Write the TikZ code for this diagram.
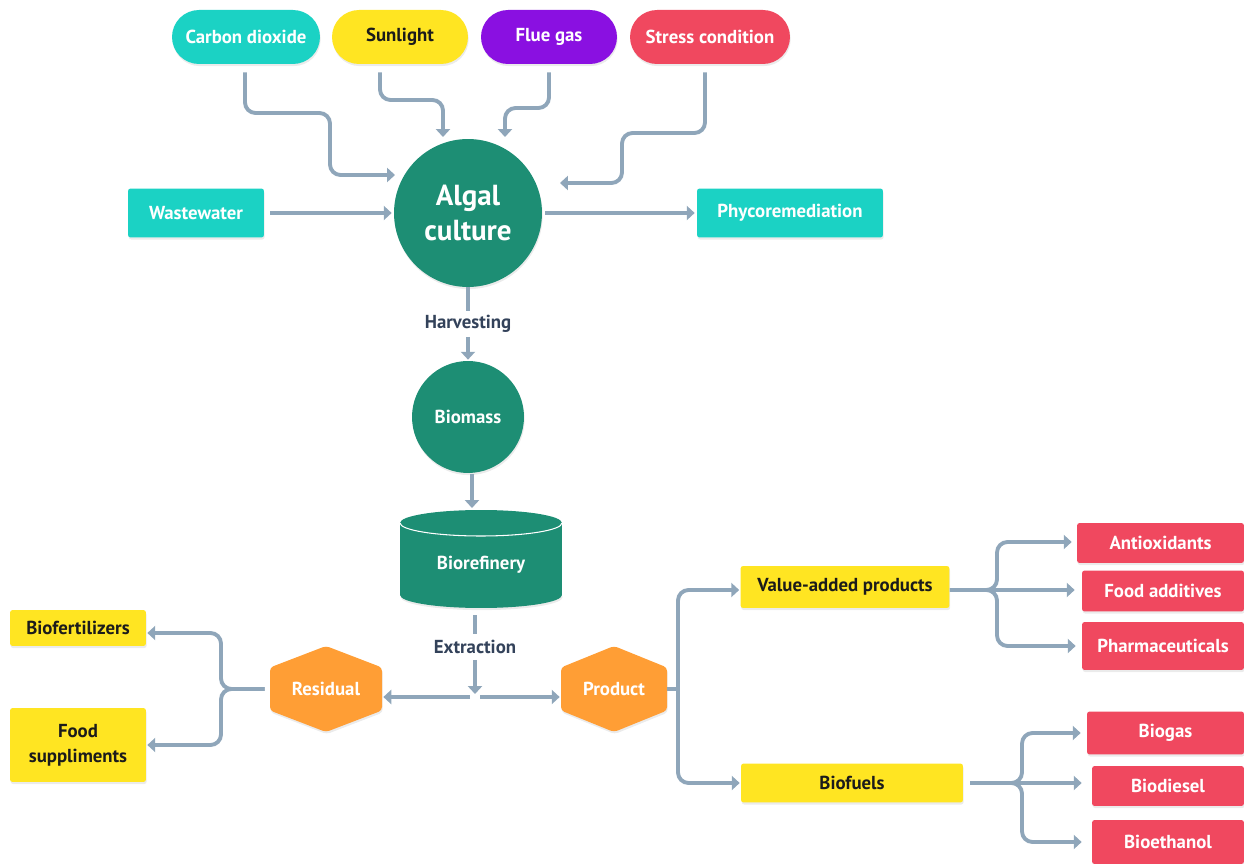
\documentclass[tikz,border=0pt]{standalone}
\usepackage{fontspec}
\setmainfont{PT Sans}
\usepackage{tikz}
\usetikzlibrary{arrows.meta,positioning,calc,shadows}
\pgfdeclarelayer{bg}
\pgfsetlayers{bg,main}

\definecolor{cTeal}{HTML}{1BD2C4}
\definecolor{cYellow}{HTML}{FFE522}
\definecolor{cPurple}{HTML}{8A10E1}
\definecolor{cRed}{HTML}{F0485F}
\definecolor{cGreen}{HTML}{1D8E74}
\definecolor{cOrange}{HTML}{FF9E35}
\definecolor{cLine}{HTML}{8FA6BA}
\definecolor{cLabel}{HTML}{33425A}
\definecolor{cInk}{HTML}{1B1B1B}

\begin{document}
\begin{tikzpicture}[x=0.02cm,y=-0.02cm,
		every node/.style = {font=\bfseries\fontsize{10.7}{14}\selectfont, align=center, inner sep=0pt},
		softshadow/.style = {drop shadow={shadow xshift=0.4pt,shadow yshift=-1.2pt,opacity=0.16}},
		pill/.style = {rounded corners=0.54cm, minimum height=1.08cm, text=white, softshadow},
		box/.style = {rounded corners=1.5pt, text=white, softshadow},
		disc/.style = {circle, fill=cGreen, text=white, softshadow},
		hexlabel/.style = {minimum height=0.86cm, text=white},
		stage/.style = {text=cLabel, minimum height=0.5cm},
		wire/.style = {draw=cLine, line width=2.2pt, rounded corners=6pt},
		conn/.style = {wire, -{Triangle[length=4.5pt,width=8pt]}}]

	\useasboundingbox (0,0) rectangle (1244,864);

	% inputs
	\node[pill,fill=cTeal,minimum width=2.96cm] (co2) at (246,37) {Carbon dioxide};
	\node[pill,fill=cYellow,text=cInk,minimum width=2.72cm] (sun) at (400,37) {Sunlight};
	\node[pill,fill=cPurple,minimum width=2.72cm] (flue) at (549,37) {Flue gas};
	\node[pill,fill=cRed,minimum width=3.2cm] (stress) at (710,37) {Stress condition};

	\node[disc,minimum size=2.96cm,font=\bfseries\fontsize{16.5}{20}\selectfont] (algal) at (468,213) {Algal\\culture};
	\node[box,fill=cTeal,minimum width=2.72cm,minimum height=0.98cm] (waste) at (196,213) {Wastewater};
	\node[box,fill=cTeal,minimum width=3.72cm,minimum height=0.98cm] (phyco) at (790,213) {Phycoremediation};

	\node[stage] (harv) at (468,324) {Harvesting};
	\node[disc,minimum size=2.24cm] (biomass) at (468,417) {Biomass};
	\node[text=white,minimum width=3.24cm,minimum height=1.7cm] (bioref) at (481,565) {Biorefinery};
	\node[stage] (extr) at (475,647) {Extraction};
	\coordinate (split) at (475,697);

	\node[hexlabel,minimum width=2.24cm] (res) at (326,689) {Residual};
	\node[hexlabel,minimum width=2.12cm] (prod) at (614,689) {Product};

	\node[box,fill=cYellow,text=cInk,minimum width=2.72cm,minimum height=0.72cm] (biofert) at (78,628) {Biofertilizers};
	\node[box,fill=cYellow,text=cInk,minimum width=2.72cm,minimum height=1.48cm] (food) at (78,745) {Food\\suppliments};

	\node[box,fill=cYellow,text=cInk,minimum width=4.18cm,minimum height=0.84cm] (vap) at (845,587) {Value-added products};
	\node[box,fill=cYellow,text=cInk,minimum width=4.44cm,minimum height=0.78cm] (fuels) at (852,783) {Biofuels};

	\node[box,fill=cRed,minimum width=3.34cm,minimum height=0.8cm] (antiox) at (1160.5,543) {Antioxidants};
	\node[box,fill=cRed,minimum width=3.24cm,minimum height=0.82cm] (foodadd) at (1163,591) {Food additives};
	\node[box,fill=cRed,minimum width=3.24cm,minimum height=0.96cm] (pharma) at (1163,646) {Pharmaceuticals};
	\node[box,fill=cRed,minimum width=3.14cm,minimum height=0.86cm] (biogas) at (1165.5,733) {Biogas};
	\node[box,fill=cRed,minimum width=3.04cm,minimum height=0.8cm] (biodiesel) at (1168,786) {Biodiesel};
	\node[box,fill=cRed,minimum width=3.04cm,minimum height=0.88cm] (bioeth) at (1168,842) {Bioethanol};

	\begin{pgfonlayer}{bg}
		\foreach \n/\w in {res/56,prod/53}
			\fill[cOrange,rounded corners=2pt,softshadow] (\n.center) ++(0,-43) -- ++(\w,21.5) -- ++(0,43) -- ++(-\w,21.5) -- ++(-\w,-21.5) -- ++(0,-43) -- cycle;
		% cylinder
		\fill[cGreen,softshadow] ($(bioref.center)+(0,30)$) ellipse [x radius=1.62cm, y radius=0.26cm];
		\fill[cGreen] ($(bioref.center)+(-81,-42)$) rectangle ($(bioref.center)+(81,30)$);
		\fill[cGreen] ($(bioref.center)+(0,-42)$) ellipse [x radius=1.62cm, y radius=0.26cm];
		\draw[white,line width=0.6pt] ($(bioref.center)+(-81,-42)$) arc [start angle=180, end angle=360, x radius=1.62cm, y radius=0.26cm];
	\end{pgfonlayer}

	\draw[conn] ($(co2.south)+(-1,8)$) |- (330,113) |- ($(algal)+(-73,-38)$);
	\draw[conn] ($(sun.south)+(-20,8)$) |- (443,100) -- ($(algal)+(-25,-76)$);
	\draw[conn] ($(flue.south)+(0,8)$) |- (505,108) -- ($(algal)+(37,-76)$);
	\draw[conn] ($(stress.south)+(-5,8)$) |- (622,133) |- ($(algal)+(92,-30)$);
	\draw[conn] ($(waste.east)+(6,0)$) -- ($(algal.west)+(-2,0)$);
	\draw[conn] ($(algal.east)+(3,0)$) -- ($(phyco.west)+(-2,0)$);

	\draw[wire] (algal.south) -- (harv.north);
	\draw[conn] (harv.south) -- ($(biomass.north)+(0,-1)$);
	\draw[conn] ($(biomass.south)+(4,1)$) -- ($(bioref.center)+(-9,-57)$);
	\draw[wire] ($(bioref.center)+(-6,50)$) -- (extr.north);
	\draw[conn] (extr.south) -- ($(split)+(0,-3)$);
	\draw[conn] ($(split)+(-5,0)$) -- ($(res.east)+(1,8)$);
	\draw[conn] ($(split)+(5,0)$) -- ($(prod.west)+(-1,8)$);

	\draw[conn] ($(res.west)+(-5,0)$) -- (221,689) |- ($(biofert.east)+(1,5)$);
	\draw[conn] ($(res.west)+(-5,0)$) -- (221,689) |- ($(food.east)+(1,0)$);

	\draw[wire] (prod.east) -- (678,689);
	\draw[conn] (678,689) |- ($(vap.west)+(-1,3)$);
	\draw[conn] (678,689) |- ($(fuels.west)+(-1,0)$);

	\draw[conn] ($(vap.east)+(0,3)$) -- (997,590) |- ($(antiox.west)+(-5,-1)$);
	\draw[conn] ($(vap.east)+(0,3)$) -- ($(foodadd.west)+(-7,-1)$);
	\draw[conn] ($(vap.east)+(0,3)$) -- (997,590) |- ($(pharma.west)+(-6,0)$);

	\draw[conn] ($(fuels.east)+(7,0)$) -- (1022,783) |- ($(biogas.west)+(-6,0)$);
	\draw[conn] ($(fuels.east)+(7,0)$) -- ($(biodiesel.west)+(-10,-3)$);
	\draw[conn] ($(fuels.east)+(7,0)$) -- (1022,783) |- ($(bioeth.west)+(-10,0)$);

\end{tikzpicture}
\end{document}
